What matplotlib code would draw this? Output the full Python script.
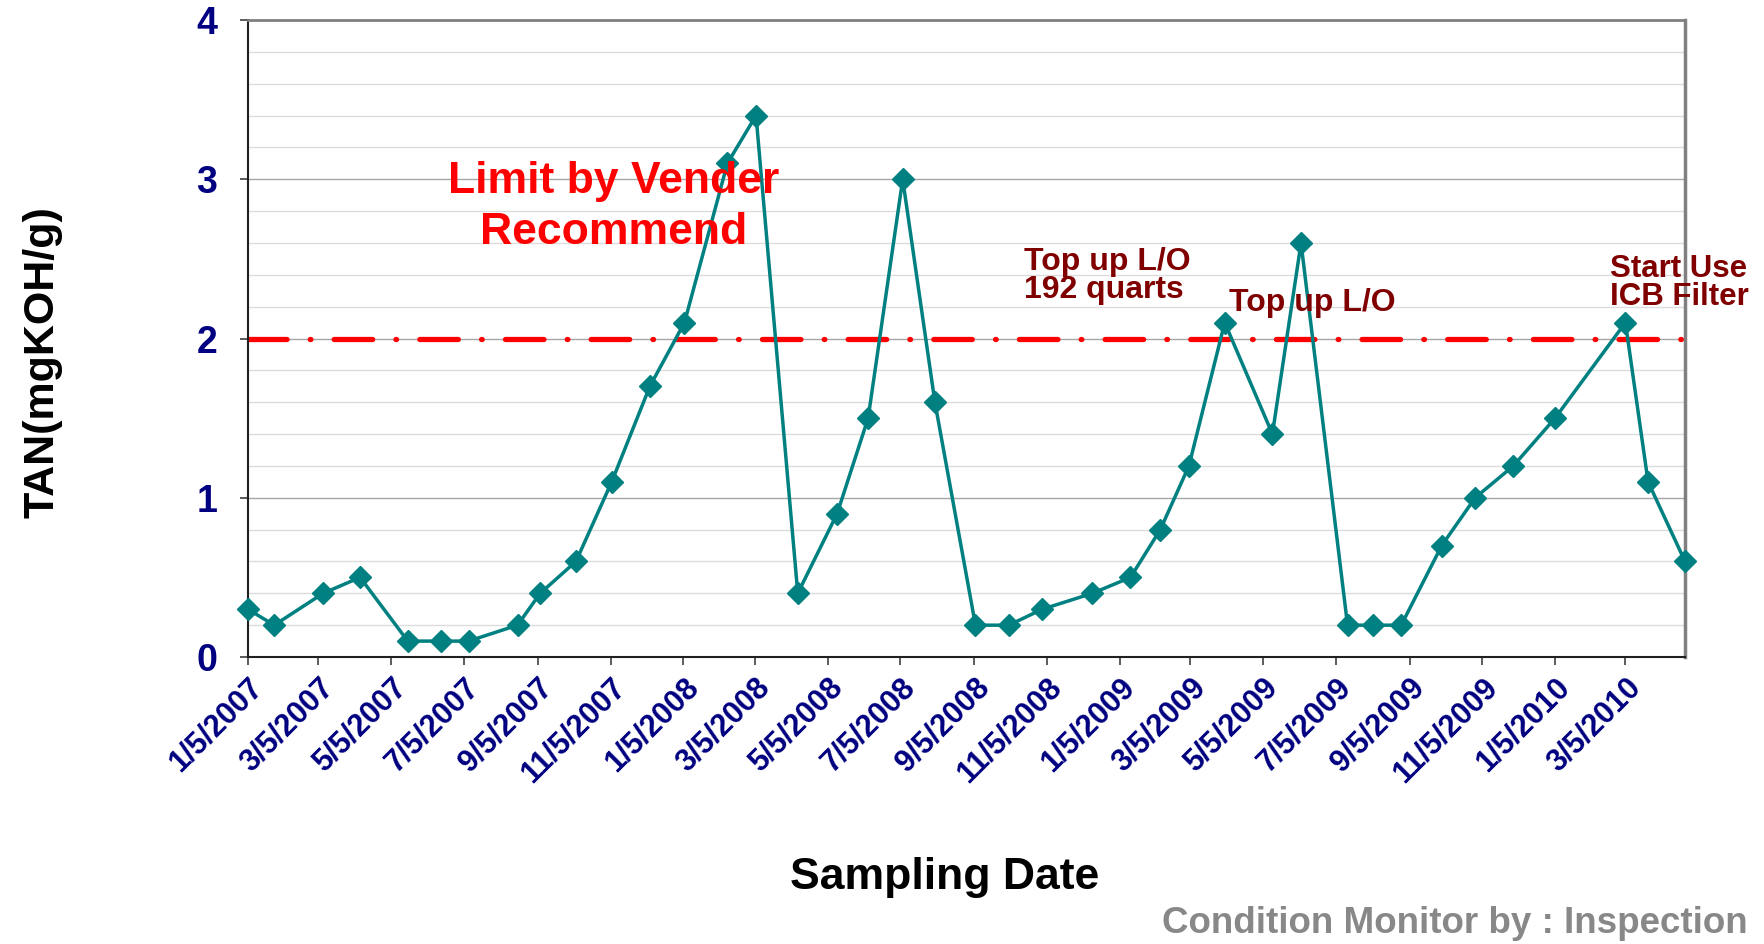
import matplotlib
matplotlib.use("Agg")
import matplotlib.pyplot as plt
import pandas as pd

plt.rcParams['font.family'] = ['Liberation Sans', 'DejaVu Sans']

# sampling dates (m/d/Y) and TAN readings
sample_dates = ['1/5/2007', '1/27/2007', '3/9/2007', '4/9/2007', '5/19/2007', '6/16/2007',
                '7/9/2007', '8/19/2007', '9/7/2007', '10/7/2007', '11/6/2007', '12/8/2007',
                '1/6/2008', '2/11/2008', '3/6/2008', '4/10/2008', '5/13/2008', '6/8/2008',
                '7/7/2008', '8/3/2008', '9/6/2008', '10/4/2008', '11/1/2008', '12/13/2008',
                '1/14/2009', '2/8/2009', '3/4/2009', '4/3/2009', '5/13/2009', '6/6/2009',
                '7/15/2009', '8/5/2009', '8/29/2009', '10/2/2009', '10/30/2009', '12/1/2009',
                '1/5/2010', '3/5/2010', '3/24/2010', '4/24/2010']
tan_values = [0.3, 0.2, 0.4, 0.5, 0.1, 0.1,
              0.1, 0.2, 0.4, 0.6, 1.1, 1.7,
              2.1, 3.1, 3.4, 0.4, 0.9, 1.5,
              3.0, 1.6, 0.2, 0.2, 0.3, 0.4,
              0.5, 0.8, 1.2, 2.1, 1.4, 2.6,
              0.2, 0.2, 0.2, 0.7, 1.0, 1.2,
              1.5, 2.1, 1.1, 0.6]
tick_labels = ['1/5/2007', '3/5/2007', '5/5/2007', '7/5/2007', '9/5/2007', '11/5/2007',
               '1/5/2008', '3/5/2008', '5/5/2008', '7/5/2008', '9/5/2008', '11/5/2008',
               '1/5/2009', '3/5/2009', '5/5/2009', '7/5/2009', '9/5/2009', '11/5/2009',
               '1/5/2010', '3/5/2010']
limit_value = 2.0

dates = pd.to_datetime(sample_dates, format='%m/%d/%Y')
ticks = pd.to_datetime(tick_labels, format='%m/%d/%Y')

fig = plt.figure(figsize=(17.65, 9.44), dpi=100)
ax = fig.add_axes([0.1405, 0.304, 0.8142, 0.6748])

navy = '#000080'
darkred = '#800000'

# grid every 0.2, integers a bit darker
for v in [i * 0.2 for i in range(1, 20)]:
    if abs(v - round(v)) < 1e-6:
        ax.axhline(v, color='#a6a6a6', lw=1.0, zorder=0)
    else:
        ax.axhline(v, color='#dcdcdc', lw=1.0, zorder=0)

ax.axhline(limit_value, color='#ff0000', lw=3.8, dashes=(7.3, 4.4, 0.13, 4.4),
           dash_capstyle='round', zorder=1)

ax.plot(dates, tan_values, color='#008080', lw=2.5, marker='D', ms=11,
        markeredgecolor='#008080', zorder=3, clip_on=False)

ax.set_xlim(dates[0], dates[-1])
ax.set_ylim(0, 4)
ax.set_yticks([0, 1, 2, 3, 4])
ax.set_xticks(ticks)
ax.set_xticklabels(tick_labels, rotation=45, ha='right', rotation_mode='anchor',
                   fontsize=22, fontweight='bold', color=navy)
for lab in ax.get_yticklabels():
    lab.set_fontsize(27)
    lab.set_fontweight('bold')
    lab.set_color(navy)
ax.tick_params(axis='both', direction='out', length=6, width=1.2, color='#404040')
ax.tick_params(axis='x', pad=5)
ax.tick_params(axis='y', pad=16)

ax.spines['left'].set_color('#202020')
ax.spines['bottom'].set_color('#202020')
ax.spines['left'].set_linewidth(1.5)
ax.spines['bottom'].set_linewidth(1.5)
ax.spines['top'].set_color('#808080')
ax.spines['top'].set_linewidth(2)
ax.spines['right'].set_color('#808080')
ax.spines['right'].set_linewidth(2.5)

ax.set_ylabel('TAN(mgKOH/g)', fontsize=31, fontweight='bold')
ax.yaxis.set_label_coords(-0.129, 0.463)

fig.text(0.5354, 0.07, 'Sampling Date', fontsize=32, fontweight='bold',
         ha='center', va='center')
fig.text(0.99, 0.022, 'Condition Monitor by : Inspection', fontsize=26.5,
         fontweight='bold', color='#888888', ha='right', va='center')

ax.text(0.2543, 0.706, 'Limit by Vender\nRecommend', transform=ax.transAxes,
        fontsize=32, fontweight='bold', color='#ff0000', ha='center', va='center',
        linespacing=1.3)
ax.text(0.540, 0.598, 'Top up L/O\n192 quarts', transform=ax.transAxes,
        fontsize=23, fontweight='bold', color=darkred, ha='left', va='center',
        linespacing=0.9)
ax.text(0.6827, 0.556, 'Top up L/O', transform=ax.transAxes,
        fontsize=23, fontweight='bold', color=darkred, ha='left', va='center')
ax.text(0.9476, 0.587, 'Start Use\nICB Filter', transform=ax.transAxes,
        fontsize=22.5, fontweight='bold', color=darkred, ha='left', va='center',
        linespacing=0.9, clip_on=False)

fig.savefig('out.png', dpi=100)
